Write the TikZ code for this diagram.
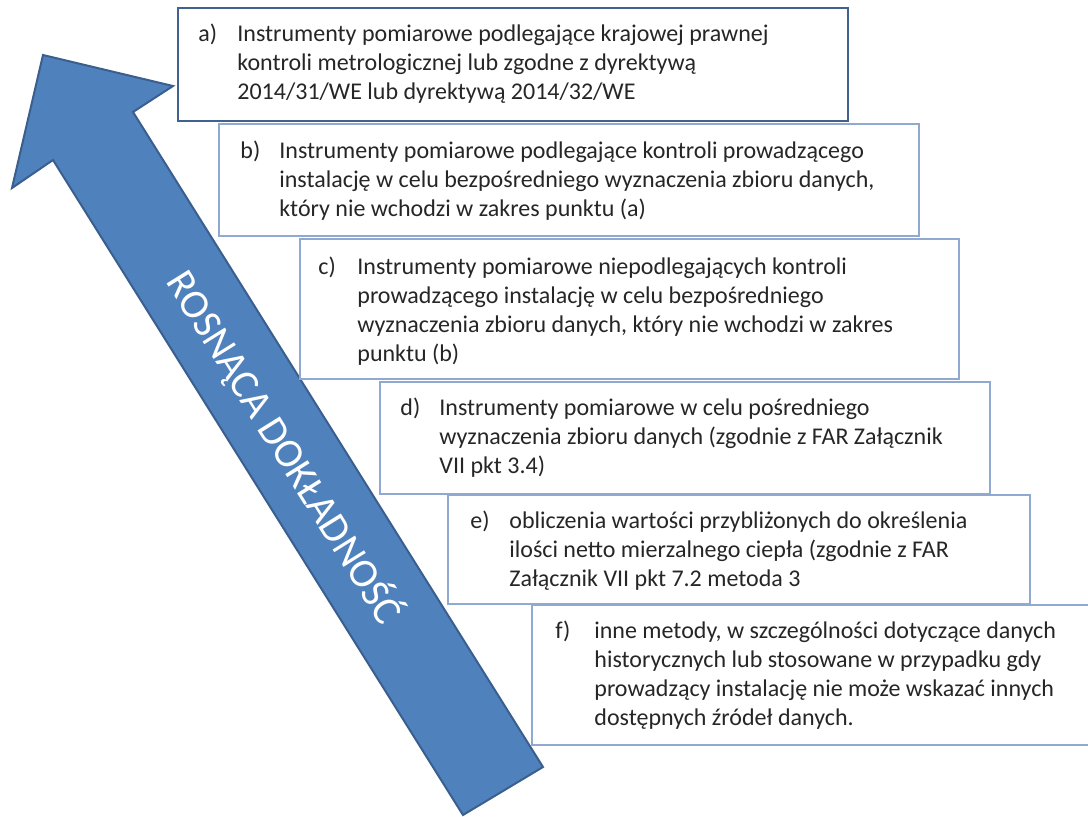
\documentclass[tikz,border=0pt]{standalone}
\usepackage{fontspec}
\setmainfont{Carlito}
\usetikzlibrary{calc}
\definecolor{arrowfill}{HTML}{4F81BD}
\definecolor{arrowline}{HTML}{3A5F8E}
\definecolor{linedark}{HTML}{41618E}
\definecolor{linelight}{HTML}{8FA9D1}

\begin{document}
\begin{tikzpicture}[x=0.5pt, y=-0.5pt,
    box/.style={draw=linelight, line width=1pt, fill=white, anchor=north west, inner sep=0pt},
    txt/.style={anchor=base west, inner sep=0pt, text=black!85, font=\fontsize{12}{14.5}\selectfont}]
    \useasboundingbox (0,0) rectangle (1088,816);
    % arrow
    \path[draw=arrowline, fill=arrowfill, line width=1pt, line join=miter]
        (43,55)--(173,86)--(133,112)--(543,767)--(463,815)--(53,160)--(12,188)--cycle;
    \node[white, rotate=-58, inner sep=0pt, font=\fontsize{20.5}{24}\selectfont](napis)at(285,447){ROSNĄCA DOKŁADNOŚĆ};
    % boxes
    \node[box, draw=linedark, minimum width=335pt, minimum height=56.5pt](boxa)at(177,7){};
    \node[box, minimum width=350pt, minimum height=56pt](boxb)at(218,123){};
    \node[box, minimum width=329.5pt, minimum height=70pt](boxc)at(299,238){};
    \node[box, minimum width=305pt, minimum height=56pt](boxd)at(379,381){};
    \node[box, minimum width=291pt, minimum height=54.5pt](boxe)at(447,494){};
    \node[box, minimum width=285pt, minimum height=70pt](boxf)at(531,604){};
    % texts
    \node[txt](txta)at($(boxa.north west)+(21,34)$){\begin{tabular}[t]{@{}p{19.5pt}@{}l@{}}
        a) & Instrumenty pomiarowe podlegające krajowej prawnej\\
           & kontroli metrologicznej lub zgodne z dyrektywą\\
           & 2014/31/WE lub dyrektywą 2014/32/WE\end{tabular}};
    \node[txt](txtb)at($(boxb.north west)+(22,35)$){\begin{tabular}[t]{@{}p{19.5pt}@{}l@{}}
        b) & Instrumenty pomiarowe podlegające kontroli prowadzącego\\
           & instalację w celu bezpośredniego wyznaczenia zbioru danych,\\
           & który nie wchodzi w zakres punktu (a)\end{tabular}};
    \node[txt](txtc)at($(boxc.north west)+(19,36)$){\begin{tabular}[t]{@{}p{19.5pt}@{}l@{}}
        c) & Instrumenty pomiarowe niepodlegających kontroli\\
           & prowadzącego instalację w celu bezpośredniego\\
           & wyznaczenia zbioru danych, który nie wchodzi w zakres\\
           & punktu (b)\end{tabular}};
    \node[txt](txtd)at($(boxd.north west)+(21,34)$){\begin{tabular}[t]{@{}p{19.5pt}@{}l@{}}
        d) & Instrumenty pomiarowe w celu pośredniego\\
           & wyznaczenia zbioru danych (zgodnie z FAR Załącznik\\
           & VII pkt 3.4)\end{tabular}};
    \node[txt](txte)at($(boxe.north west)+(23,34)$){\begin{tabular}[t]{@{}p{19.5pt}@{}l@{}}
        e) & obliczenia wartości przybliżonych do określenia\\
           & ilości netto mierzalnego ciepła (zgodnie z FAR\\
           & Załącznik VII pkt 7.2 metoda 3\end{tabular}};
    \node[txt](txtf)at($(boxf.north west)+(24,34)$){\begin{tabular}[t]{@{}p{19.5pt}@{}l@{}}
        f) & inne metody, w szczególności dotyczące danych\\
           & historycznych lub stosowane w przypadku gdy\\
           & prowadzący instalację nie może wskazać innych\\
           & dostępnych źródeł danych.\end{tabular}};
\end{tikzpicture}
\end{document}
